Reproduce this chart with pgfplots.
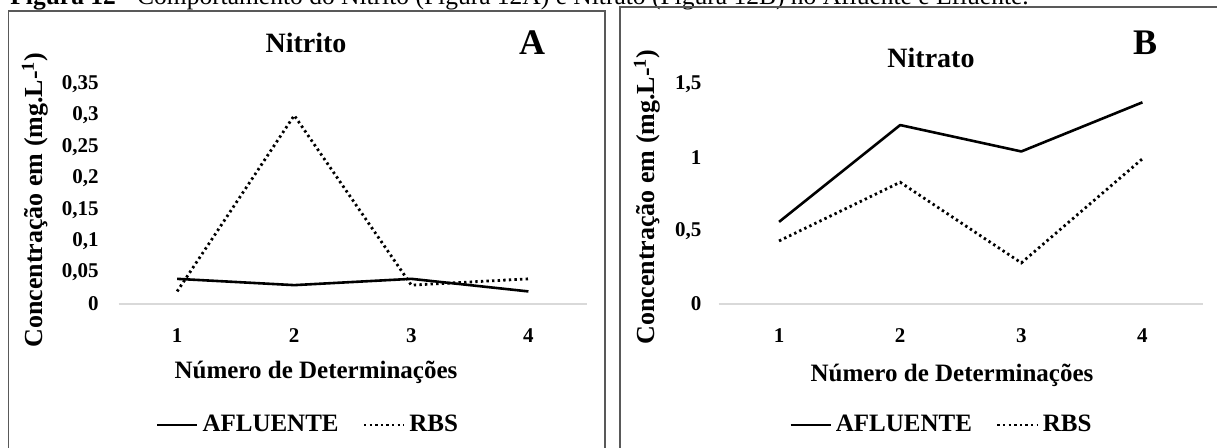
\documentclass[border=0pt]{standalone}
\usepackage{pgfplots}
\pgfplotsset{compat=1.18}
\usepackage{fontspec}
\setmainfont{Liberation Serif}
\definecolor{boxgray}{HTML}{595959}
\definecolor{axgray}{HTML}{D9D9D9}
\pgfplotsset{
  panel/.style={
    scale only axis, height=110pt,
    xmin=0.5, xmax=4.5, ymin=0,
    axis x line*=bottom, axis y line*=left,
    y axis line style={draw=none},
    x axis line style={draw=axgray, line width=0.8pt, -},
    major tick length=0pt,
    xtick={1,2,3,4}, xticklabels={1,2,3,4},
    ticklabel style={font=\fontsize{10.5}{12}\selectfont\bfseries},
    xticklabel style={yshift=-9pt},
    legend columns=2,
    legend style={draw=none, fill=none, anchor=center,
      font=\fontsize{12.5}{14}\selectfont\bfseries,
      /tikz/every even column/.append style={column sep=10pt},
      /tikz/every odd column/.append style={column sep=0pt}},
    legend image code/.code={\draw[##1] (0pt,0pt) -- (20pt,0pt);},
    clip=false,
  },
  afl/.style={black, line width=1.3pt, line join=round},
  rbs/.style={black, line width=1.4pt, dash pattern=on 1.2pt off 1.6pt},
}
\begin{document}
\begin{tikzpicture}
\path[use as bounding box] (0pt,0pt) rectangle (608.5pt,224pt);
\clip (0pt,0pt) rectangle (608.5pt,224pt);
% caption (partly cut at the top)
\node[anchor=base west, inner sep=0pt, font=\fontsize{12.75}{14}\selectfont] at (5pt,221.5pt)
  {\textbf{Figura 12} - Comportamento do Nitrito (Figura 12A) e Nitrato (Figura 12B) no Afluente e Efluente.};
% panel boxes
\draw[boxgray, line width=0.9pt] (4.25pt,-6pt) -- (4.25pt,218.5pt) -- (302.5pt,218.5pt) -- (302.5pt,-6pt);
\draw[boxgray, line width=0.9pt] (310pt,-6pt) -- (310pt,220.5pt) -- (615pt,220.5pt);

% ---------- Panel A: Nitrito ----------
\begin{axis}[panel, at={(59.3pt,72pt)}, anchor=south west, width=234.2pt,
  ymax=0.35, ytick={0,0.05,0.1,0.15,0.2,0.25,0.3,0.35},
  yticklabels={0,{0,05},{0,1},{0,15},{0,2},{0,25},{0,3},{0,35}},
  yticklabel style={xshift=-6.5pt},
  legend style={at={(0.4065,-0.55)}}]
\addplot[afl] coordinates {(1,0.04) (2,0.03) (3,0.04) (4,0.02)};
\addlegendentry{AFLUENTE}
\addplot[rbs] coordinates {(1,0.02) (2,0.30) (3,0.03) (4,0.04)};
\addlegendentry{RBS}
\end{axis}

% ---------- Panel B: Nitrato ----------
\begin{axis}[panel, at={(359.25pt,72pt)}, anchor=south west, width=242.25pt,
  ymax=1.5, ytick={0,0.5,1,1.5},
  yticklabels={0,{0,5},1,{1,5}},
  yticklabel style={xshift=-5pt},
  legend style={at={(0.462,-0.55)}}]
\addplot[afl] coordinates {(1,0.56) (2,1.22) (3,1.04) (4,1.375)};
\addlegendentry{AFLUENTE}
\addplot[rbs] coordinates {(1,0.43) (2,0.83) (3,0.28) (4,0.99)};
\addlegendentry{RBS}
\end{axis}

% titles and axis titles
\node[font=\fontsize{14}{16}\selectfont\bfseries] at (153pt,202.5pt) {Nitrito};
\node[font=\fontsize{18}{20}\selectfont\bfseries] at (266pt,202.5pt) {A};
\node[font=\fontsize{14}{16}\selectfont\bfseries] at (465.5pt,195pt) {Nitrato};
\node[font=\fontsize{18}{20}\selectfont\bfseries] at (572.5pt,202.5pt) {B};
\node[rotate=90, font=\fontsize{13}{15}\selectfont\bfseries] at (17.5pt,124pt) {Concentração em (mg.L-\textsuperscript{1})};
\node[rotate=90, font=\fontsize{13}{15}\selectfont\bfseries] at (323.5pt,125.5pt) {Concentração em (mg.L-\textsuperscript{1})};
\node[font=\fontsize{12.5}{14}\selectfont\bfseries] at (158pt,38pt) {Número de Determinações};
\node[font=\fontsize{12.5}{14}\selectfont\bfseries] at (476pt,36.5pt) {Número de Determinações};
\end{tikzpicture}
\end{document}
